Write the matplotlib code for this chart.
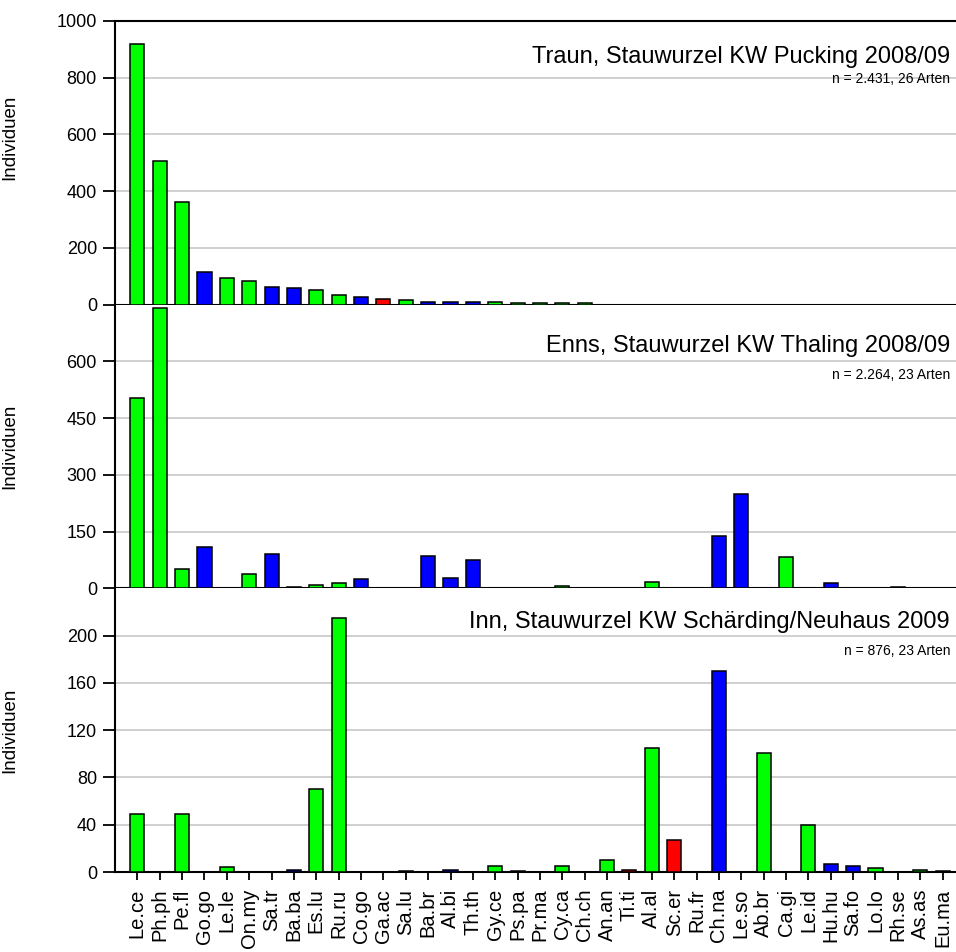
import numpy as np
import matplotlib.pyplot as plt

plt.rcParams["font.family"] = ["Liberation Sans", "DejaVu Sans"]

# Arten (Kürzel) und Gilde: e = eurytop (grün), r = rheophil (blau), l = limnophil (rot)
arten = ["Le.ce", "Ph.ph", "Pe.fl", "Go.go", "Le.le", "On.my", "Sa.tr", "Ba.ba", "Es.lu",
         "Ru.ru", "Co.go", "Ga.ac", "Sa.lu", "Ba.br", "Al.bi", "Th.th", "Gy.ce", "Ps.pa",
         "Pr.ma", "Cy.ca", "Ch.ch", "An.an", "Ti.ti", "Al.al", "Sc.er", "Ru.fr", "Ch.na",
         "Le.so", "Ab.br", "Ca.gi", "Le.id", "Hu.hu", "Sa.fo", "Lo.lo", "Rh.se", "As.as", "Eu.ma"]
gilde = ["e", "e", "e", "r", "e", "e", "r", "r", "e",
         "e", "r", "l", "e", "r", "r", "r", "e", "e",
         "e", "e", "e", "e", "l", "e", "l", "r", "r",
         "r", "e", "e", "e", "r", "r", "e", "l", "e", "r"]

traun = [919, 508, 361, 114, 94, 85, 61, 58, 52, 34, 28, 21, 17, 11, 11, 9, 8, 7, 7, 5, 5,
         0, 0, 0, 0, 0, 0, 0, 0, 0, 0, 0, 0, 0, 0, 0, 0]
enns = [502, 740, 51, 110, 0, 37, 90, 4, 8, 15, 24, 0, 0, 85, 28, 74, 0, 0, 0, 5, 0,
        2, 0, 17, 0, 0, 138, 250, 0, 83, 0, 14, 0, 0, 3, 0, 0]
inn = [49, 0, 49, 0, 4, 0, 0, 2, 70, 215, 0, 0, 1, 0, 2, 0, 5, 1, 0, 5, 0,
       10, 2, 105, 27, 0, 170, 0, 101, 0, 40, 7, 5, 3, 0, 2, 1]

titel = ["Traun, Stauwurzel KW Pucking 2008/09",
         "Enns, Stauwurzel KW Thaling 2008/09",
         "Inn, Stauwurzel KW Schärding/Neuhaus 2009"]
info = ["n = 2.431, 26 Arten", "n = 2.264, 23 Arten", "n = 876, 23 Arten"]

farben = {"e": "#00ff00", "r": "#0000ff", "l": "#ff0000"}
cols = [farben[g] for g in gilde]
x = np.arange(len(arten))

fig, axes = plt.subplots(3, 1, figsize=(9.56, 9.52), dpi=100, sharex=True)
fig.subplots_adjust(left=0.1203, right=1.0, top=0.978, bottom=0.084, hspace=0)

daten = [traun, enns, inn]
ylims = [1000, 750, 240]
yticks = [np.arange(0, 1001, 200), np.arange(0, 601, 150), np.arange(0, 201, 40)]
titel_y = [0.873, 0.855, 0.883]
info_y = [0.795, 0.753, 0.78]
label_y = [0.59, 0.5, 0.5]

for i, ax in enumerate(axes):
    ax.bar(x, daten[i], width=0.63, color=cols, edgecolor="black", linewidth=1.1, zorder=3)
    ax.set_ylim(0, ylims[i])
    ax.set_xlim(-1.0, 36.6)
    ax.set_yticks(yticks[i])
    ax.yaxis.grid(True, color="#c8c8c8", linewidth=1.2, zorder=0)
    ax.set_axisbelow(True)
    ax.spines["right"].set_visible(False)
    if i > 0:
        ax.spines["top"].set_visible(False)
    for s in ["left", "bottom", "top"]:
        ax.spines[s].set_linewidth(1.5)
    ax.tick_params(axis="y", direction="out", length=9, width=1.3, labelsize=13, pad=4)
    ax.tick_params(axis="x", direction="out", length=6, width=1.3, pad=6)
    ax.set_ylabel("Individuen", fontsize=13.5)
    ax.yaxis.set_label_coords(-0.115, label_y[i])
    ax.text(0.993, titel_y[i], titel[i], transform=ax.transAxes, ha="right", va="center",
            fontsize=17)
    ax.text(0.993, info_y[i], info[i], transform=ax.transAxes, ha="right", va="center",
            fontsize=10)

axes[-1].set_xticks(x)
axes[-1].set_xticklabels(arten, rotation=90, fontsize=14.5)

plt.savefig("out.png", dpi=100)
